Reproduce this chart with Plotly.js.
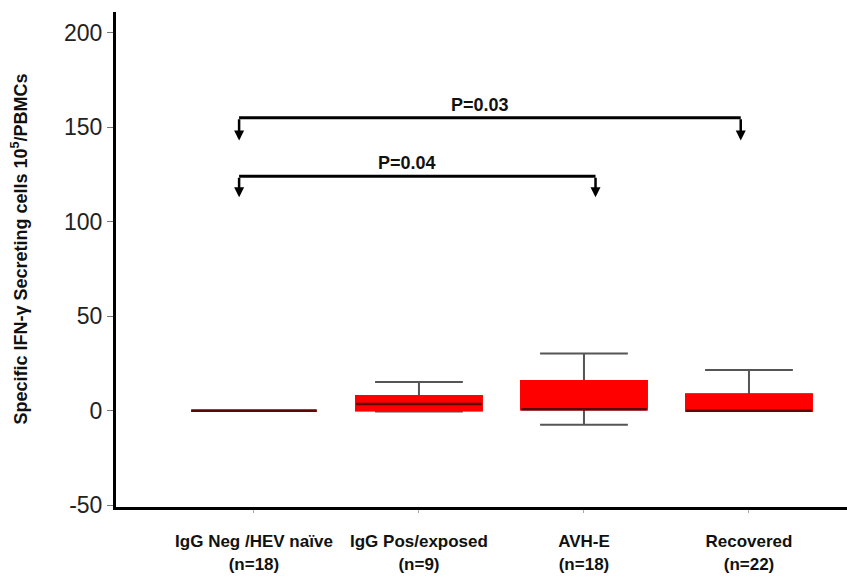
<!DOCTYPE html>
<html>
<head>
<meta charset="utf-8">
<script src="https://cdn.plot.ly/plotly-3.0.1.min.js"></script>
<style>html,body{margin:0;padding:0;background:#fff;}#chart{width:847px;height:578px;}</style>
</head>
<body>
<div id="chart"></div>
<script>
// ---- data ----
const categories = ['IgG Neg /HEV naïve<br>(n=18)', 'IgG Pos/exposed<br>(n=9)', 'AVH-E<br>(n=18)', 'Recovered<br>(n=22)'];
const catIndex = [0, 1, 2, 3];
const lowerWhisker = [0, -0.4, -7.4, 0];
const q1 = [0, 0.2, 0.8, 0];
const median = [0, 3.5, 0.8, 0];
const q3 = [0, 7.6, 15.5, 8.5];
const upperWhisker = [0, 15.2, 30.2, 21.5];

// significance brackets
const pLabels = ['P=0.03', 'P=0.04'];
const bracketFrom = [-0.09, -0.09];
const bracketTo = [2.95, 2.07];
const bracketY = [155, 124];
const arrowTipY = [143, 113];

const yTickVals = [-50, 0, 50, 100, 150, 200];
const yTickText = ['-50', '0', '50', '100', '150', '200'];
const yTitle = 'Specific IFN-γ Secreting cells 10<sup>5</sup>/PBMCs';

// ---- traces ----
const FONT = 'Liberation Sans, Arial, sans-serif';
const boxW = 0.76;
const traces = [];
// whiskers (full box)
traces.push({
  type: 'box', x: catIndex, q1: q1, median: median, q3: q3,
  lowerfence: lowerWhisker, upperfence: upperWhisker,
  width: boxW, whiskerwidth: 0.7, fillcolor: '#ff0000',
  line: {color: '#555555', width: 2}, boxpoints: false, hoverinfo: 'skip', showlegend: false
});
// red body over the outline
traces.push({
  type: 'box', x: catIndex, q1: q1, median: q3, q3: q3,
  lowerfence: q1, upperfence: q3,
  width: boxW, whiskerwidth: 0, fillcolor: '#ff0000',
  line: {color: '#ff0000', width: 2.5}, boxpoints: false, hoverinfo: 'skip', showlegend: false
});
// dark median line
traces.push({
  type: 'box', x: catIndex, q1: median, median: median, q3: median,
  lowerfence: median, upperfence: median,
  width: boxW, whiskerwidth: 0, fillcolor: 'rgba(0,0,0,0)',
  line: {color: '#5a0808', width: 2.5}, boxpoints: false, hoverinfo: 'skip', showlegend: false
});
// bracket horizontals
for (let i = 0; i < pLabels.length; i++) {
  traces.push({
    type: 'scatter', mode: 'lines',
    x: [bracketFrom[i], bracketTo[i]], y: [bracketY[i], bracketY[i]],
    line: {color: '#000', width: 3}, hoverinfo: 'skip', showlegend: false
  });
}

const annotations = [];
for (let i = 0; i < pLabels.length; i++) {
  annotations.push({
    x: (bracketFrom[i] + bracketTo[i]) / 2, y: bracketY[i], xref: 'x', yref: 'y',
    text: '<b>' + pLabels[i] + '</b>', showarrow: false, yanchor: 'bottom', yshift: 1, xshift: -10,
    font: {family: FONT, size: 18, color: '#111'}
  });
  [bracketFrom[i], bracketTo[i]].forEach(function (xv) {
    annotations.push({
      x: xv, y: arrowTipY[i], ax: xv, ay: bracketY[i], xref: 'x', yref: 'y', axref: 'x', ayref: 'y',
      text: '', showarrow: true, arrowhead: 2, arrowsize: 0.8, arrowwidth: 2.5, arrowcolor: '#000', standoff: 0
    });
  });
}
// y-axis title
annotations.push({
  xref: 'paper', yref: 'paper', x: 0, y: 0.52, xshift: -96,
  xanchor: 'center', yanchor: 'middle', textangle: -90, showarrow: false,
  text: '<b>' + yTitle + '</b>', font: {family: FONT, size: 18, color: '#111'}
});

const layout = {
  width: 847, height: 578,
  margin: {l: 116, r: 0, t: 12, b: 71},
  paper_bgcolor: '#fff', plot_bgcolor: '#fff',
  boxmode: 'overlay',
  showlegend: false,
  xaxis: {
    range: [-0.836, 3.594], tickvals: catIndex, ticktext: categories.map(function(c){return '<b>' + c + '</b>';}),
    showline: true, linecolor: '#000', linewidth: 3, showgrid: false, zeroline: false,
    ticks: 'outside', ticklen: 3, tickcolor: '#aaa', tickwidth: 1,
    ticklabelstandoff: 14,
    tickfont: {family: FONT, size: 17, color: '#111'}
  },
  yaxis: {
    range: [-51, 211], tickvals: yTickVals, ticktext: yTickText,
    showline: true, linecolor: '#000', linewidth: 3, showgrid: false, zeroline: false,
    ticks: 'outside', ticklen: 6, tickcolor: '#777', tickwidth: 1,
    tickfont: {family: FONT, size: 23, color: '#222'}
  },
  annotations: annotations
};

Plotly.newPlot('chart', traces, layout, {displayModeBar: false, staticPlot: true});
</script>
</body>
</html>
